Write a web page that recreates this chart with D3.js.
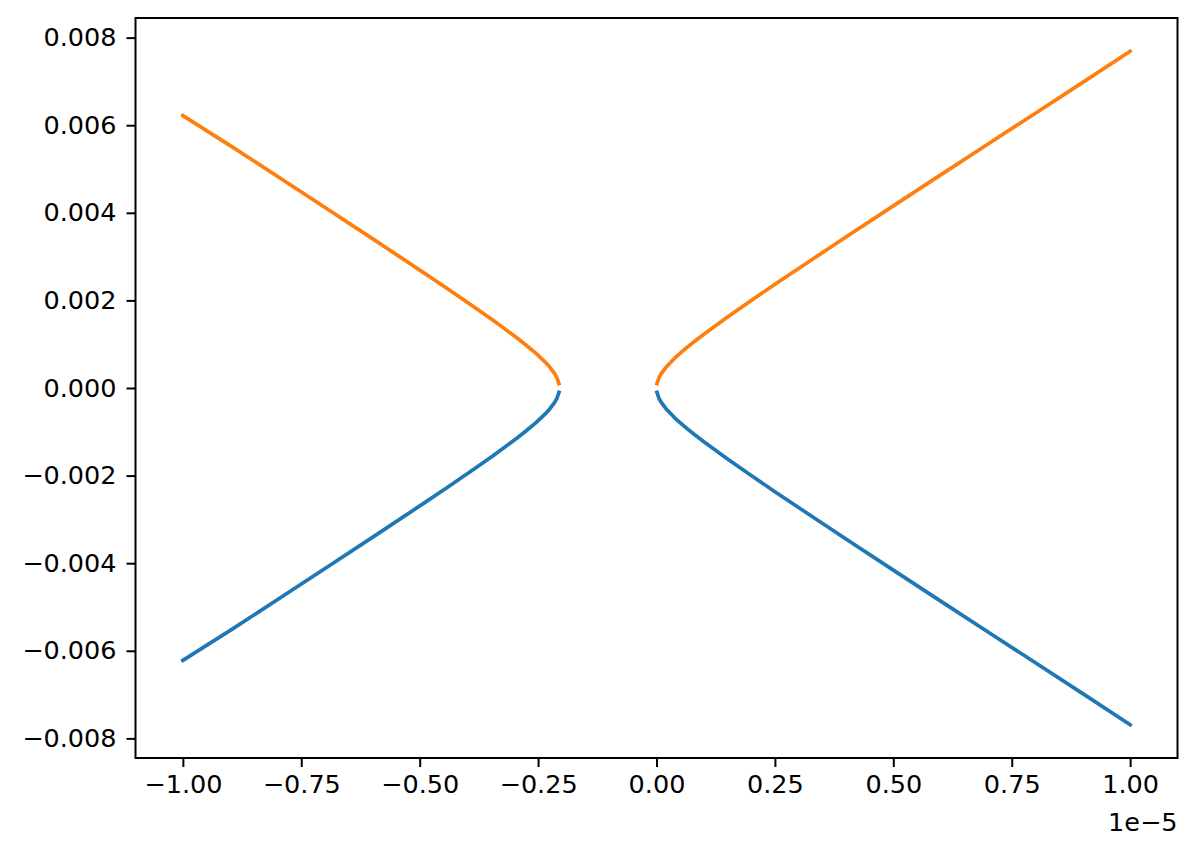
<!DOCTYPE html>
<html>
<head>
<meta charset="utf-8">
<script src="https://cdn.jsdelivr.net/npm/d3@7"></script>
<style>
  html, body { margin: 0; padding: 0; background: #fff; }
  svg { display: block; }
  text { font-family: "DejaVu Sans", sans-serif; }
</style>
</head>
<body>
<svg id="chart" width="1197" height="856"></svg>
<script>
// x values are in units of 1e-5 (offset text "1e−5")
const xExponentLabel = "1e\u22125";

// Left branch (x from -1.00 toward the gap near -0.205)
const leftX = [-1.0, -0.895, -0.795, -0.695, -0.595, -0.495, -0.445, -0.395, -0.345, -0.295, -0.275, -0.255, -0.235, -0.225, -0.215, -0.210, -0.206];
const leftUpper = [0.00622, 0.00550, 0.004795, 0.004088, 0.003377, 0.002658, 0.002294, 0.001924, 0.001545, 0.001147, 0.000977, 0.000796, 0.000592, 0.000473, 0.000327, 0.000229, 0.000101];

// Right branch (x from ~0 to 1.00)
const rightX = [0.001, 0.005, 0.01, 0.02, 0.04, 0.06, 0.08, 0.1, 0.15, 0.2, 0.25, 0.3, 0.4, 0.5, 0.6, 0.7, 0.8, 0.9, 1.0];
const rightUpper = [0.000101, 0.000229, 0.000327, 0.000473, 0.000698, 0.000888, 0.001063, 0.001229, 0.001622, 0.001999, 0.002367, 0.00273, 0.003448, 0.004159, 0.004866, 0.005571, 0.006274, 0.006977, 0.00769];

// Lower (blue) branches mirror the upper (orange) ones
const leftLower = leftUpper.map(v => -v);
const rightLower = rightUpper.map(v => -v);

const xTicks = [-1.0, -0.75, -0.5, -0.25, 0.0, 0.25, 0.5, 0.75, 1.0];
const yTicks = [-0.008, -0.006, -0.004, -0.002, 0.0, 0.002, 0.004, 0.006, 0.008];

const colors = { lower: "#1f77b4", upper: "#ff7f0e" };

const svg = d3.select("#chart");
const margin = { left: 135.5, right: 1177.5, top: 18, bottom: 758 };

const x = d3.scaleLinear().domain([-1.1, 1.1]).range([margin.left, margin.right]);
const y = d3.scaleLinear().domain([-0.008448, 0.008448]).range([margin.bottom, margin.top]);

const minus = s => s.replace("-", "\u2212");

const line = d3.line().x(d => x(d[0])).y(d => y(d[1]));

const series = [
  { xs: leftX, ys: leftLower, color: colors.lower },
  { xs: leftX, ys: leftUpper, color: colors.upper },
  { xs: rightX, ys: rightLower, color: colors.lower },
  { xs: rightX, ys: rightUpper, color: colors.upper }
];
const order = [0, 2, 1, 3];
order.forEach(i => {
  const s = series[i];
  svg.append("path")
    .datum(s.xs.map((v, j) => [v, s.ys[j]]))
    .attr("d", line)
    .attr("fill", "none")
    .attr("stroke", s.color)
    .attr("stroke-width", 3.7)
    .attr("stroke-linecap", "square")
    .attr("stroke-linejoin", "round");
});

const fs = "25.5px";
const xAxis = d3.axisBottom(x).tickValues(xTicks).tickSize(9).tickPadding(8).tickFormat(d => minus(d3.format(".2f")(d)));
const yAxis = d3.axisLeft(y).tickValues(yTicks).tickSize(9).tickPadding(10).tickFormat(d => minus(d3.format(".3f")(d)));

const gx = svg.append("g").attr("transform", `translate(0,${margin.bottom})`).call(xAxis);
const gy = svg.append("g").attr("transform", `translate(${margin.left},0)`).call(yAxis);
[gx, gy].forEach(g => {
  g.select(".domain").remove();
  g.selectAll(".tick line").attr("stroke", "#000").attr("stroke-width", 2);
  g.selectAll(".tick text").attr("fill", "#000").attr("font-size", fs).attr("font-family", "DejaVu Sans, sans-serif");
});

svg.append("rect")
  .attr("x", margin.left).attr("y", margin.top)
  .attr("width", margin.right - margin.left).attr("height", margin.bottom - margin.top)
  .attr("fill", "none").attr("stroke", "#000").attr("stroke-width", 2);

svg.append("text")
  .attr("x", margin.right).attr("y", 831)
  .attr("text-anchor", "end")
  .attr("font-size", fs)
  .attr("fill", "#000")
  .text(xExponentLabel);
</script>
</body>
</html>
